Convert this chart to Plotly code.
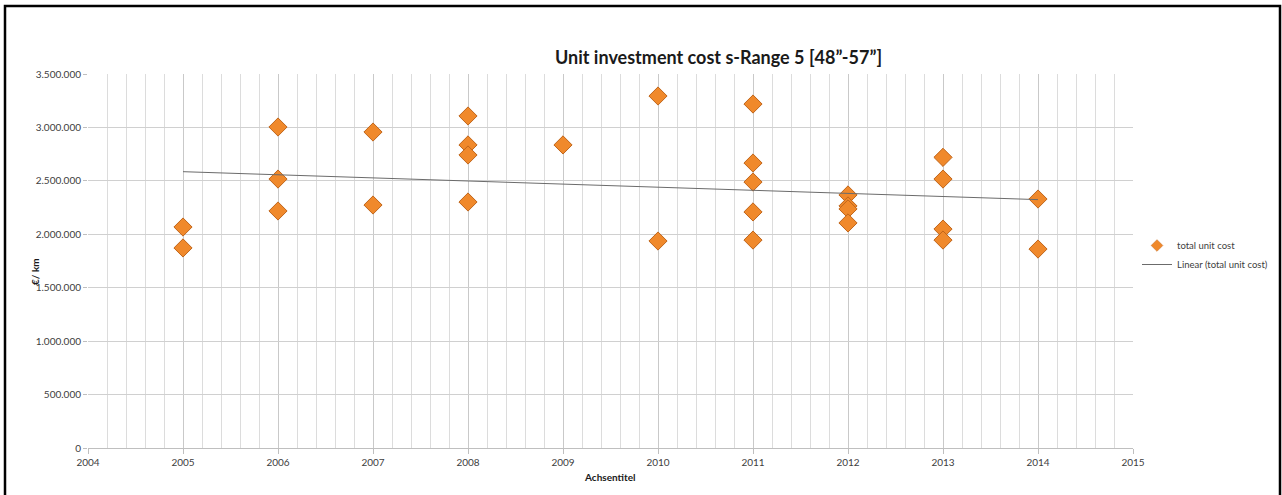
import numpy as np
import plotly.graph_objects as go

# Data
years = [2005, 2005,
         2006, 2006, 2006,
         2007, 2007,
         2008, 2008, 2008, 2008,
         2009,
         2010, 2010,
         2011, 2011, 2011, 2011, 2011,
         2012, 2012, 2012, 2012,
         2013, 2013, 2013, 2013,
         2014, 2014]
unit_cost = [2068000, 1872000,
             3004000, 2517000, 2218000,
             2957000, 2274000,
             3107000, 2836000, 2742000, 2302000,
             2836000,
             3294000, 1937000,
             3219000, 2667000, 2489000, 2209000, 1946000,
             2368000, 2265000, 2237000, 2106000,
             2720000, 2517000, 2049000, 1946000,
             2330000, 1862000]

title_text = "Unit investment cost s-Range 5 [48\u201d-57\u201d]"
x_title = "Achsentitel"
y_title = "\u20ac/ km"
series_name = "total unit cost"
trend_name = "Linear (total unit cost)"

# Linear trend (least squares) computed from the data
slope, intercept = np.polyfit(years, unit_cost, 1)
trend_x = [min(years), max(years)]
trend_y = [slope * x + intercept for x in trend_x]

FONT = "Lato, Carlito, 'Liberation Sans', sans-serif"
MARKER_COLOR = "#F0892B"
MARKER_EDGE = "#C0651A"

fig = go.Figure()
fig.add_trace(go.Scatter(
    x=years, y=unit_cost, mode="markers", name=series_name,
    showlegend=False, legendgroup="pts",
    marker=dict(symbol="diamond", size=14, color=MARKER_COLOR,
                line=dict(color=MARKER_EDGE, width=1)),
))
# legend entry with a smaller symbol, as in the reference legend
fig.add_trace(go.Scatter(
    x=[None], y=[None], mode="markers", name=series_name,
    legendgroup="pts", showlegend=True,
    marker=dict(symbol="diamond", size=9, color=MARKER_COLOR,
                line=dict(color=MARKER_EDGE, width=0.5)),
))
fig.add_trace(go.Scatter(
    x=trend_x, y=trend_y, mode="lines", name=trend_name,
    line=dict(color="#6b6b6b", width=1),
))

W, H = 1282, 495
L, R, T, B = 88, 2, 74, 47
pw, ph = W - L - R, H - T - B
PLOT_RIGHT = 1133

def px(xp):
    return (xp - L) / pw

def py(yp):
    return (H - B - yp) / ph

fig.update_layout(
    width=W, height=H,
    margin=dict(l=L, r=R, t=T, b=B, autoexpand=False),
    paper_bgcolor="white", plot_bgcolor="white",
    separators=",.",
    font=dict(family=FONT, size=10, color="#404040"),
    showlegend=True,
    legend=dict(x=px(1137), y=py(231), xanchor="left", yanchor="top",
                font=dict(size=9.5, color="#404040"),
                bgcolor="rgba(0,0,0,0)", itemwidth=30, tracegroupgap=0),
    annotations=[
        dict(text="<b>" + title_text + "</b>", x=px(718), y=py(57),
             xref="paper", yref="paper", showarrow=False,
             font=dict(size=18, color="#1a1a1a", family=FONT),
             xanchor="center", yanchor="middle"),
        dict(text="<b>" + x_title + "</b>", x=px(610), y=py(477),
             xref="paper", yref="paper", showarrow=False,
             font=dict(size=10, color="#1a1a1a", family=FONT),
             xanchor="center", yanchor="middle"),
        dict(text="<b>" + y_title + "</b>", x=px(35), y=py(272),
             xref="paper", yref="paper", showarrow=False, textangle=-90,
             font=dict(size=10, color="#1a1a1a", family=FONT),
             xanchor="center", yanchor="middle"),
    ],
    shapes=[
        dict(type="rect", xref="paper", yref="paper",
             x0=px(5), x1=px(1280), y0=py(500), y1=py(6),
             line=dict(color="black", width=2.5), fillcolor="rgba(0,0,0,0)",
             layer="above"),
    ],
)

fig.update_xaxes(
    domain=[0, px(PLOT_RIGHT)],
    range=[2004, 2015], tickmode="linear", tick0=2004, dtick=1,
    tickformat="d", showgrid=True, gridcolor="#c9c9c9", gridwidth=1,
    minor=dict(dtick=0.2, showgrid=True, gridcolor="#dcdcdc", gridwidth=1),
    showline=True, linecolor="#bfbfbf", linewidth=1,
    ticks="outside", ticklen=5, tickcolor="#bfbfbf",
    tickfont=dict(size=10, color="#404040"), zeroline=False,
)
fig.update_yaxes(
    range=[0, 3500000], tickmode="linear", tick0=0, dtick=500000,
    tickformat=",d", showgrid=True, gridcolor="#d0d0d0", gridwidth=1,
    showline=False, ticks="outside", ticklen=4, tickcolor="#bfbfbf",
    tickfont=dict(size=10, color="#404040"), zeroline=False,
)

fig.write_html(
    "out.html",
    config={"displayModeBar": False},
    post_script="document.body.style.margin='0';document.body.style.overflow='hidden';",
)
